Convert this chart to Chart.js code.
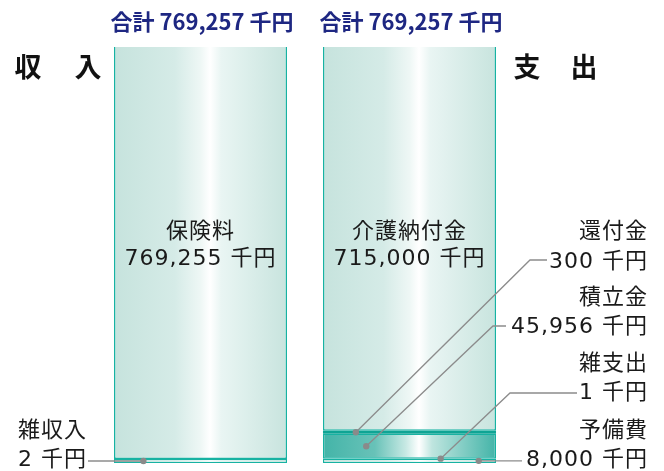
<!DOCTYPE html>
<html lang="ja">
<head>
<meta charset="utf-8">
<title>収入・支出</title>
<script src="https://cdn.jsdelivr.net/npm/chart.js@4.4.1/dist/chart.umd.min.js"></script>
<style>
  html, body { margin: 0; padding: 0; background: #fff; }
  #wrap { width: 664px; height: 471px; position: relative; }
</style>
</head>
<body>
<div id="wrap"><canvas id="chart"></canvas></div>
<script>
// data (千円)
const categories = ['収入', '支出'];
const incomeLabels = ['雑収入', '保険料'];
const incomeValues = [2, 769255];
const expenseLabels = ['予備費', '雑支出', '積立金', '還付金', '介護納付金'];
const expenseValues = [8000, 1, 45956, 300, 715000];
const unit = '千円';

const BORDER = '#17b2a2';
const LINE = '#8c8c8c';
const BAR_PCT = 0.828;
const LABEL_FONT = '22px "DejaVu Sans", "Noto Sans CJK JP", sans-serif';

const lightStops = [[0, '#c6e3dd'], [0.35, '#d5ebe7'], [0.5, '#eef7f5'], [0.555, '#ffffff'], [0.62, '#e9f5f3'], [1, '#c8e4de']];
const darkStops = [[0, '#43b4a8'], [0.3, '#68c2b8'], [0.48, '#c8e9e4'], [0.555, '#ffffff'], [0.63, '#bfe5df'], [1, '#43b4a8']];

function fmt(v) { return v.toLocaleString('en-US'); }
const sum = arr => arr.reduce((a, b) => a + b, 0);

function barGradient(stops) {
  return function(ctx) {
    const chart = ctx.chart;
    const xs = chart.scales.x;
    if (!xs || !chart.chartArea) return stops[0][1];
    const cx = xs.getPixelForValue(ctx.dataIndex);
    const w = (xs.width / categories.length) * BAR_PCT;
    const g = chart.ctx.createLinearGradient(cx - w / 2, 0, cx + w / 2, 0);
    stops.forEach(s => g.addColorStop(s[0], s[1]));
    return g;
  };
}

// lower dataset index is drawn on top
const datasets = [
  { label: incomeLabels[0], data: [incomeValues[0], null], backgroundColor: barGradient(lightStops),
    borderColor: BORDER, borderWidth: 1.3, minBarLength: 4 },
  { label: incomeLabels[1], data: [incomeValues[1], null], backgroundColor: barGradient(lightStops),
    borderColor: BORDER, borderWidth: 1.5 },
  { label: expenseLabels[0], data: [null, expenseValues[0]], backgroundColor: barGradient(lightStops),
    borderColor: BORDER, borderWidth: 1.3 },
  { label: expenseLabels[1], data: [null, expenseValues[1]], backgroundColor: BORDER,
    borderWidth: 0 },
  { label: expenseLabels[2], data: [null, expenseValues[2]], backgroundColor: barGradient(darkStops),
    borderColor: BORDER, borderWidth: 1.3 },
  { label: expenseLabels[3], data: [null, expenseValues[3]], backgroundColor: '#0fa494',
    borderWidth: 0, minBarLength: 3 },
  { label: expenseLabels[4], data: [null, expenseValues[4]], backgroundColor: barGradient(lightStops),
    borderColor: BORDER, borderWidth: 1.5 }
];
datasets.forEach(d => {
  d.stack = 'all';
  d.borderSkipped = false;
  d.categoryPercentage = 1;
  d.barPercentage = BAR_PCT;
});

// callouts: label, which dataset, where on the bar (fraction of width), path to the text
const callouts = [
  { ds: 0, fx: 0.17, text: [incomeLabels[0], incomeValues[0] + ' ' + unit], side: 'left', tx: 18, ty: [431, 460], path: [[88, null]] },
  { ds: 5, fx: 0.19, text: [expenseLabels[3], fmt(expenseValues[3]) + ' ' + unit], side: 'right', ty: [232, 262], path: [[530, 260], [547, 260]] },
  { ds: 4, fx: 0.25, text: [expenseLabels[2], fmt(expenseValues[2]) + ' ' + unit], side: 'right', ty: [298, 327], path: [[493, 326], [506, 326]] },
  { ds: 3, fx: 0.68, text: [expenseLabels[1], fmt(expenseValues[1]) + ' ' + unit], side: 'right', ty: [364, 393], path: [[510, 393], [577, 393]] },
  { ds: 2, fx: 0.90, text: [expenseLabels[0], fmt(expenseValues[0]) + ' ' + unit], side: 'right', ty: [431, 460], path: [[522, null]] }
];

const labelsPlugin = {
  id: 'labels',
  afterDatasetsDraw(chart) {
    const ctx = chart.ctx;
    const xs = chart.scales.x;
    const top = chart.chartArea.top;
    const w = (xs.width / categories.length) * BAR_PCT;
    ctx.save();

    // totals
    const totals = [sum(incomeValues), sum(expenseValues)];
    ctx.fillStyle = '#1e2782';
    ctx.font = 'bold 22px "Noto Sans CJK JP", sans-serif';
    ctx.textAlign = 'center';
    ctx.textBaseline = 'middle';
    totals.forEach((t, i) => {
      ctx.fillText('合計 ' + fmt(t) + ' ' + unit, xs.getPixelForValue(i) + 1.5, top - 25);
    });

    // 収 入 / 支 出
    ctx.fillStyle = '#111';
    ctx.font = 'bold 27px "Noto Sans CJK JP", sans-serif';
    const sideY = top + 20;
    ctx.fillText(categories[0][0], 28, sideY);
    ctx.fillText(categories[0][1], 88, sideY);
    ctx.fillText(categories[1][0], 527, sideY);
    ctx.fillText(categories[1][1], 584, sideY);

    // inside labels
    ctx.font = LABEL_FONT;
    ctx.letterSpacing = '1px';
    ctx.fillStyle = '#1a1a1a';
    [[1, incomeLabels[1], incomeValues[1]], [6, expenseLabels[4], expenseValues[4]]].forEach(([di, name, v]) => {
      const el = chart.getDatasetMeta(di).data[di === 1 ? 0 : 1];
      ctx.fillText(name, el.x, 232);
      ctx.fillText(fmt(v) + ' ' + unit, el.x, 259);
    });

    // callouts
    callouts.forEach(c => {
      const idx = c.side === 'left' ? 0 : 1;
      const el = chart.getDatasetMeta(c.ds).data[idx];
      const dx = el.x - w / 2 + w * c.fx;
      const dy = (el.y + el.base) / 2;
      ctx.strokeStyle = LINE;
      ctx.lineWidth = 1.3;
      ctx.beginPath();
      ctx.moveTo(dx, dy);
      c.path.forEach(p => ctx.lineTo(p[0], p[1] === null ? dy : p[1]));
      ctx.stroke();
      ctx.fillStyle = '#8a8a8a';
      ctx.beginPath();
      ctx.arc(dx, dy, 3.2, 0, Math.PI * 2);
      ctx.fill();

      ctx.fillStyle = '#1a1a1a';
      if (c.side === 'left') {
        ctx.textAlign = 'left';
        ctx.fillText(c.text[0], c.tx, c.ty[0]);
        ctx.fillText(c.text[1], c.tx, c.ty[1]);
      } else {
        ctx.textAlign = 'right';
        ctx.fillText(c.text[0], 648, c.ty[0]);
        ctx.fillText(c.text[1], 648, c.ty[1]);
      }
      ctx.textAlign = 'center';
    });
    ctx.restore();
  }
};

new Chart(document.getElementById('chart'), {
  type: 'bar',
  data: { labels: categories, datasets: datasets },
  options: {
    responsive: true,
    maintainAspectRatio: false,
    animation: false,
    layout: { padding: { left: 96, right: 150, top: 47, bottom: 8 } },
    scales: {
      x: { display: false, stacked: true },
      y: { display: false, stacked: true, min: 0, max: sum(incomeValues) }
    },
    plugins: {
      legend: { display: false },
      tooltip: { enabled: false }
    }
  },
  plugins: [labelsPlugin]
});
</script>
</body>
</html>
